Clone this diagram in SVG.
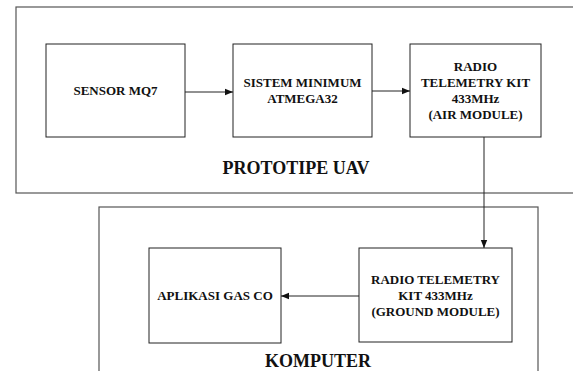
<svg xmlns="http://www.w3.org/2000/svg" width="573" height="371" viewBox="0 0 573 371">
<style>
.frame{fill:none;stroke:#555;stroke-width:1.2}
.box{fill:#fff;stroke:#222;stroke-width:1}
.lbl{font-family:"Liberation Serif","Times New Roman",serif;font-weight:bold;font-size:13px;fill:#111;text-anchor:middle}
.title{font-family:"Liberation Serif","Times New Roman",serif;font-weight:bold;font-size:18px;fill:#111;text-anchor:middle}
.conn{fill:none;stroke:#222;stroke-width:1}
</style>
<defs>
<marker id="arr" viewBox="0 0 8 8" refX="8" refY="4" markerWidth="8" markerHeight="8" markerUnits="userSpaceOnUse" orient="auto">
<path d="M0,0.8 L8,4 L0,7.2 Z" fill="#111"/>
</marker>
</defs>
<rect width="573" height="371" fill="#fff"/>
<g id="prototipe-uav">
<rect class="frame" x="16" y="7" width="570" height="186"/>
<text class="title" x="296" y="174">PROTOTIPE UAV</text>
</g>
<g id="komputer">
<rect class="frame" x="99" y="207" width="439" height="180"/>
<text class="title" x="318" y="367">KOMPUTER</text>
</g>
<g id="sensor">
<rect class="box" x="46" y="44" width="139" height="93"/>
<text class="lbl" x="115.5" y="95">SENSOR MQ7</text>
</g>
<g id="sistem">
<rect class="box" x="233" y="44" width="139" height="93"/>
<text class="lbl" x="302.5" y="87">SISTEM MINIMUM</text>
<text class="lbl" x="302.5" y="103">ATMEGA32</text>
</g>
<g id="radio-air">
<rect class="box" x="410" y="44" width="131" height="93"/>
<text class="lbl" x="475.5" y="71">RADIO</text>
<text class="lbl" x="475.5" y="87">TELEMETRY KIT</text>
<text class="lbl" x="475.5" y="103">433MHz</text>
<text class="lbl" x="475.5" y="119">(AIR MODULE)</text>
</g>
<g id="aplikasi">
<rect class="box" x="149" y="248" width="132" height="95"/>
<text class="lbl" x="215" y="300">APLIKASI GAS CO</text>
</g>
<g id="radio-ground">
<rect class="box" x="359" y="248" width="153" height="94"/>
<text class="lbl" x="435.5" y="284">RADIO TELEMETRY</text>
<text class="lbl" x="435.5" y="300">KIT 433MHz</text>
<text class="lbl" x="435.5" y="316">(GROUND MODULE)</text>
</g>
<g id="connectors">
<line class="conn" x1="185" y1="92" x2="233" y2="92" marker-end="url(#arr)"/>
<line class="conn" x1="372" y1="91" x2="410" y2="91" marker-end="url(#arr)"/>
<line class="conn" x1="484" y1="137" x2="484" y2="248" marker-end="url(#arr)"/>
<line class="conn" x1="359" y1="296" x2="281" y2="296" marker-end="url(#arr)"/>
</g>
</svg>
